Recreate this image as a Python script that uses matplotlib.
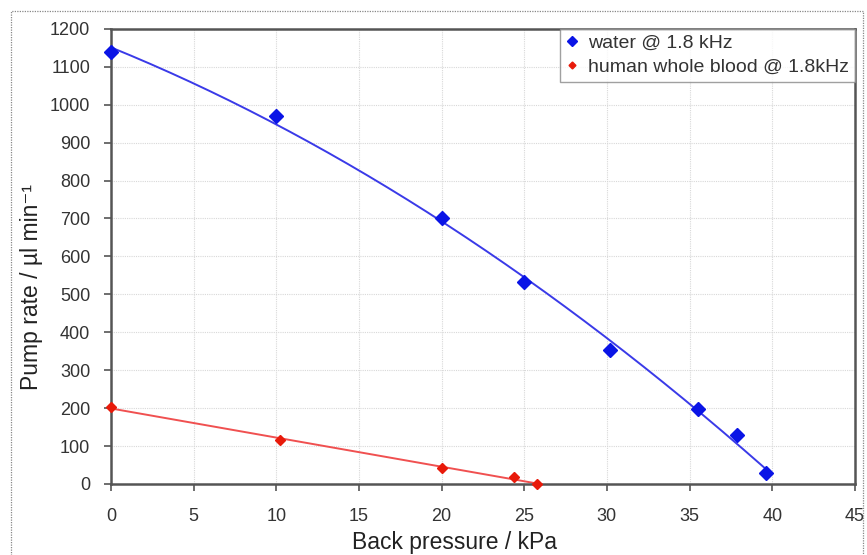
import matplotlib.pyplot as plt
import numpy as np
from matplotlib.patches import Rectangle

plt.rcParams["font.family"] = ["Liberation Sans", "DejaVu Sans"]

# water @ 1.8 kHz
water_p = [0, 10, 20, 25, 30.2, 35.5, 37.9, 39.6]
water_rate = [1140, 970, 700, 533, 352, 197, 130, 30]

# human whole blood @ 1.8 kHz
blood_p = [0, 10.2, 20, 24.4, 25.8]
blood_rate = [203, 115, 42, 18, 0]

x_ticks = list(range(0, 46, 5))
y_ticks = list(range(0, 1201, 100))

fig = plt.figure(figsize=(8.67, 5.55), dpi=100)
ax = fig.add_axes([0.128, 0.128, 0.858, 0.820])

# outer dashed frame like the original chart area
fig.patches.append(Rectangle((11 / 867, -0.01), 852 / 867, 1 - 11 / 555 + 0.01,
                             transform=fig.transFigure, fill=False,
                             edgecolor="#888888", linestyle=(0, (1, 1)),
                             linewidth=0.9))

# trendlines (Excel style): 2nd order poly for water, linear for blood
wc = np.polyfit(water_p, water_rate, 2)
wx = np.linspace(water_p[0], water_p[-1], 200)
ax.plot(wx, np.polyval(wc, wx), color="#3a3ae8", linewidth=1.4, zorder=2)

bc = np.polyfit(blood_p, blood_rate, 1)
bx = np.linspace(blood_p[0], blood_p[-1], 50)
ax.plot(bx, np.polyval(bc, bx), color="#f05050", linewidth=1.4, zorder=2)

ax.plot(water_p, water_rate, linestyle="none", marker="D", markersize=7,
        color="#0a14e6", label="water @ 1.8 kHz", zorder=3, clip_on=False)
ax.plot(blood_p, blood_rate, linestyle="none", marker="D", markersize=5,
        color="#e81a0a", label="human whole blood @ 1.8kHz", zorder=3,
        clip_on=False)

ax.set_xlim(0, 45)
ax.set_ylim(0, 1200)
ax.set_xticks(x_ticks)
ax.set_yticks(y_ticks)
ax.grid(True, color="#d8d8d8", linestyle=(0, (1, 1)), linewidth=0.8)
ax.set_axisbelow(True)

for s in ax.spines.values():
    s.set_color("#555555")
    s.set_linewidth(1.8)

ax.tick_params(axis="both", direction="out", length=5, width=1.2,
               color="#555555", labelsize=13, labelcolor="#333333")
ax.tick_params(axis="x", pad=12)
ax.tick_params(axis="y", pad=10)

ax.set_xlabel("Back pressure / kPa", fontsize=16.5, color="#222222")
ax.set_ylabel("Pump rate / µl min⁻¹", fontsize=16.5, color="#222222")
ax.xaxis.set_label_coords(0.462, -0.103)
ax.yaxis.set_label_coords(-0.0914, 0.433)

leg = ax.legend(loc="upper right", fontsize=14, frameon=True, fancybox=False,
                borderaxespad=0, handlelength=0.7, handletextpad=0.45,
                markerscale=0.7, labelspacing=0.3, borderpad=0.3)
leg.get_frame().set_edgecolor("#888888")
leg.get_frame().set_linewidth(1.0)
for t in leg.get_texts():
    t.set_color("#333333")

fig.savefig("out.png", dpi=100)
